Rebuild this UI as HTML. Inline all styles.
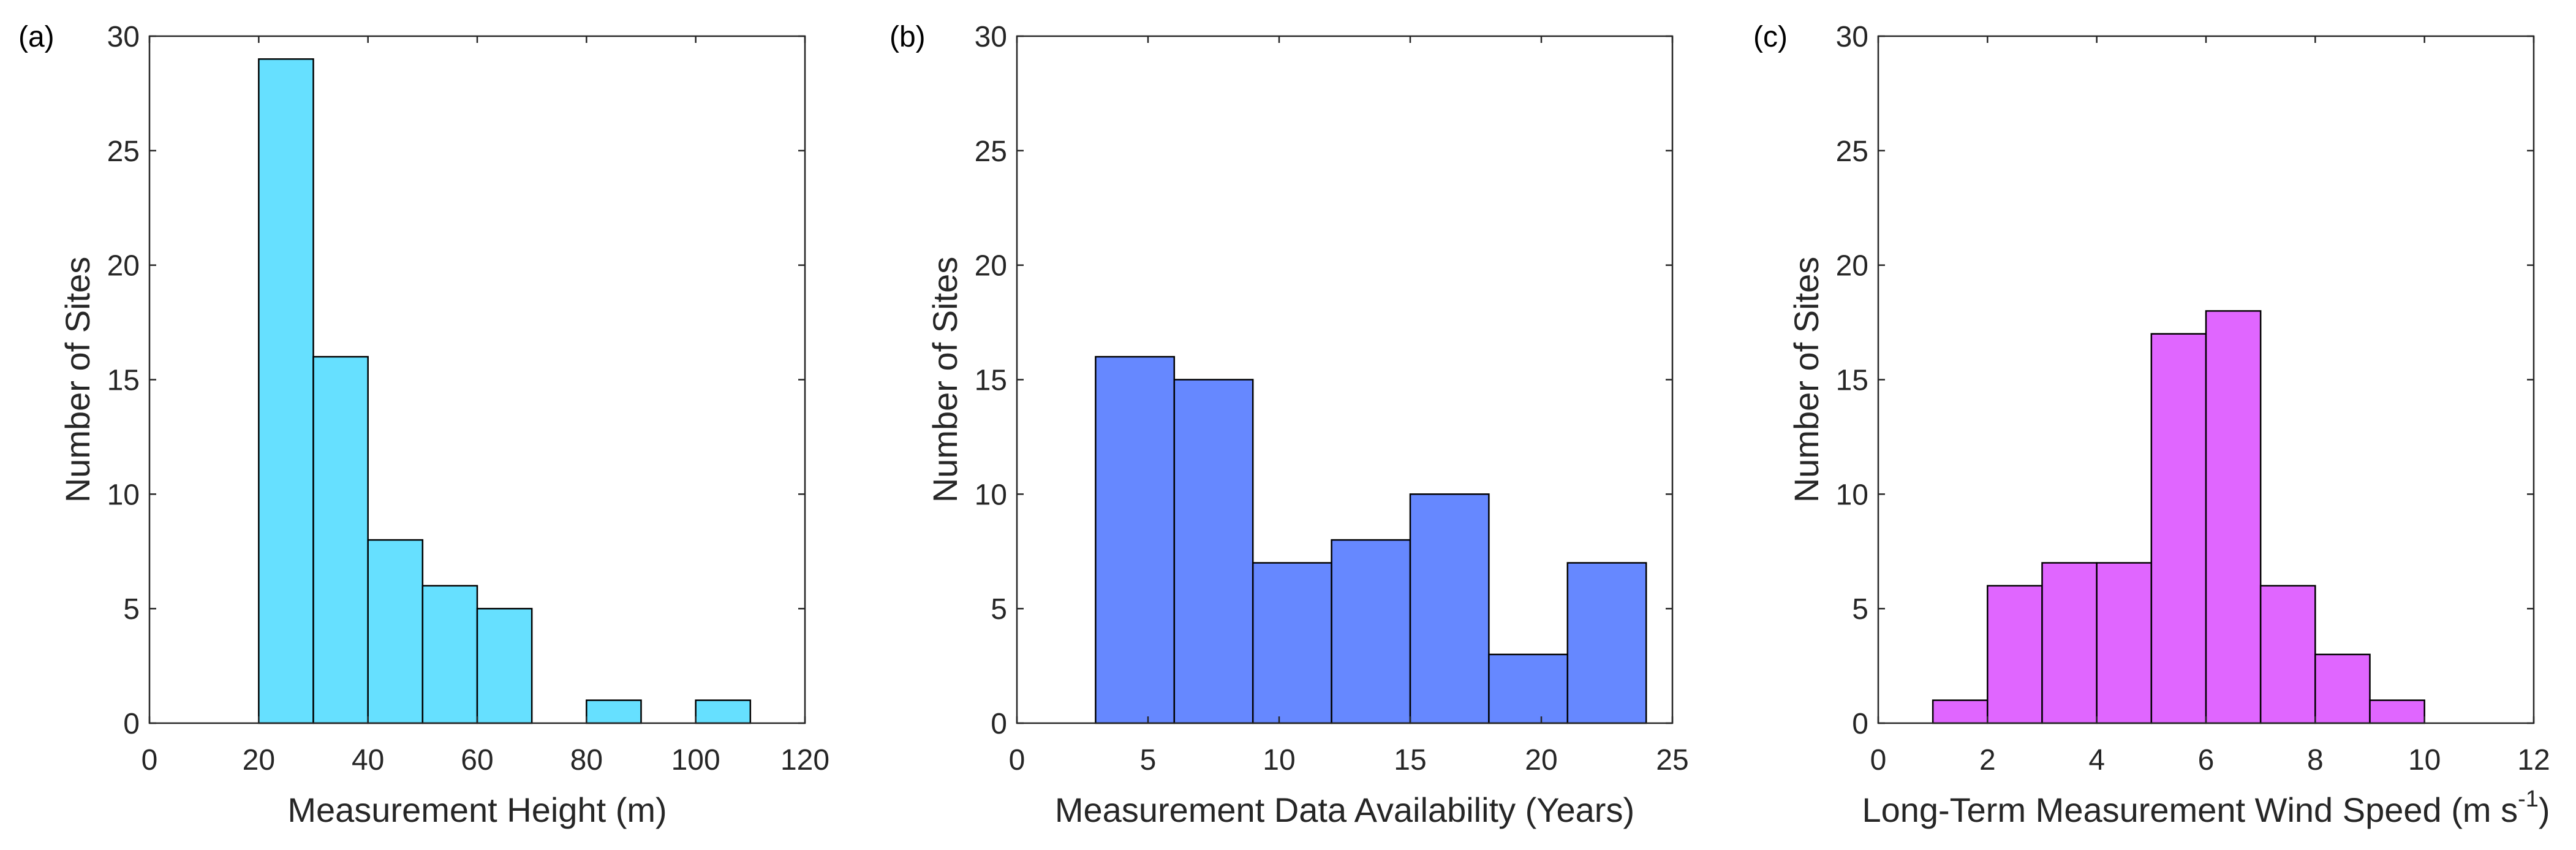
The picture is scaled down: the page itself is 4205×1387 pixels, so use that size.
<!DOCTYPE html>
<html><head><meta charset="utf-8">
<style>
html,body{margin:0;padding:0;background:#fff;}
svg{display:block;font-family:"Liberation Sans",Arial,sans-serif;}
</style></head>
<body>
<svg id="fig" width="4205" height="1387" viewBox="0 0 4205 1387" xmlns="http://www.w3.org/2000/svg"></svg>
<script>
// Panel (a)
const aEdges = [20,30,40,50,60,70,80,90,100,110];
const aCounts = [29,16,8,6,5,0,1,0,1];
const aXTicks = [0,20,40,60,80,100,120];
// Panel (b)
const bEdges = [3,6,9,12,15,18,21,24];
const bCounts = [16,15,7,8,10,3,7];
const bXTicks = [0,5,10,15,20,25];
// Panel (c)
const cEdges = [1,2,3,4,5,6,7,8,9,10];
const cCounts = [1,6,7,7,17,18,6,3,1];
const cXTicks = [0,2,4,6,8,10,12];
const yTicks = [0,5,10,15,20,25,30];

const NS="http://www.w3.org/2000/svg";
const svgEl=document.getElementById('fig');
function mk(tag,attrs,parent){const e=document.createElementNS(NS,tag);for(const k in attrs)e.setAttribute(k,attrs[k]);(parent||svgEl).appendChild(e);return e;}

const panels=[
 {id:'a',left:244,edges:aEdges,counts:aCounts,xt:aXTicks,xmax:120,color:'#66e0ff',xlabel:'Measurement Height (m)',labelX:30},
 {id:'b',left:1660,edges:bEdges,counts:bCounts,xt:bXTicks,xmax:25,color:'#6688ff',xlabel:'Measurement Data Availability (Years)',labelX:1452},
 {id:'c',left:3066,edges:cEdges,counts:cCounts,xt:cXTicks,xmax:12,color:'#e066ff',xlabel:'Long-Term Measurement Wind Speed (m s',labelX:2862}
];
const AW=1070, axTop=59, axBottom=1180, AH=axBottom-axTop;

panels.forEach(p=>{
  const g=mk('g',{});
  
  
  const xs=v=>p.left+v/p.xmax*AW;
  const ys=v=>axBottom-v/30*AH;
  p.counts.forEach((c,i)=>{
    if(c<=0) return;
    const x0=xs(p.edges[i]), x1=xs(p.edges[i+1]);
    const r=mk('rect',{x:x0,y:ys(c),width:x1-x0,height:ys(0)-ys(c),fill:p.color,stroke:'#000','stroke-width':2.5},g);
    
    
  });
  const box=mk('rect',{x:p.left,y:axTop,width:AW,height:AH,fill:'none',stroke:'#262626','stroke-width':2.5},g);
  
  
  yTicks.forEach(t=>{
    const y=ys(t);
    mk('line',{x1:p.left,x2:p.left+11,y1:y,y2:y,stroke:'#262626','stroke-width':2.5},g);
    mk('line',{x1:p.left+AW,x2:p.left+AW-11,y1:y,y2:y,stroke:'#262626','stroke-width':2.5},g);
    const tx=mk('text',{x:p.left-16,y:y+17,'text-anchor':'end','font-size':48,fill:'#262626'},g);
    tx.textContent=t;
    
    
  });
  p.xt.forEach(t=>{
    const x=xs(t);
    mk('line',{x1:x,x2:x,y1:axBottom,y2:axBottom-11,stroke:'#262626','stroke-width':2.5},g);
    mk('line',{x1:x,x2:x,y1:axTop,y2:axTop+11,stroke:'#262626','stroke-width':2.5},g);
    const tx=mk('text',{x:x,y:1256,'text-anchor':'middle','font-size':48,fill:'#262626'},g);
    tx.textContent=t;
    
    
  });
  const xl=mk('text',{x:p.left+AW/2,y:1341,'text-anchor':'middle','font-size':56,fill:'#262626'},g);
  xl.textContent=p.xlabel;
  if(p.id==='c'){
    const sup=mk('tspan',{'font-size':38,dy:-25},xl); sup.textContent='-1';
    const cl=mk('tspan',{'font-size':56,dy:25},xl); cl.textContent=')';
  }
  
  
  const cy=(axTop+axBottom)/2, cx=p.left-98;
  const yl=mk('text',{x:cx,y:cy,'text-anchor':'middle','font-size':56,fill:'#262626',transform:`rotate(-90 ${cx} ${cy})`},g);
  yl.textContent='Number of Sites';
  
  
  const pl=mk('text',{x:p.labelX,y:76,'font-size':48,fill:'#000'},g);
  pl.textContent='('+p.id+')';
  
  
});
</script>
</body></html>
